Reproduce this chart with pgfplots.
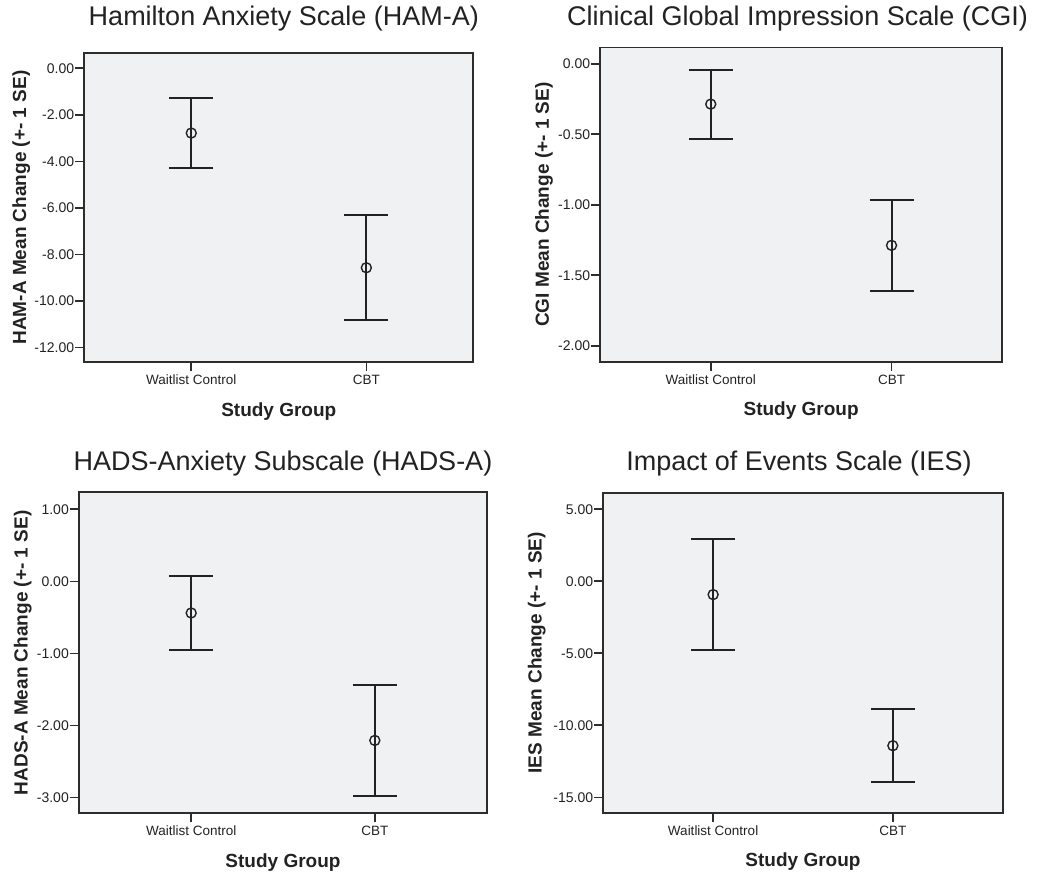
\documentclass[border=0pt]{standalone}
\usepackage{fontspec}
\setmainfont{Liberation Sans}
\usepackage{pgfplots}
\pgfplotsset{compat=1.18}
\definecolor{bgcol}{RGB}{240,241,243}
\definecolor{axcol}{RGB}{45,45,45}
\definecolor{barcol}{RGB}{34,34,34}
\definecolor{txtcol}{RGB}{34,34,34}
\pgfplotsset{
 spss/.style={
  scale only axis, anchor=north west,
  xmin=-0.611, xmax=1.611,
  xtick={0,1}, xticklabels={Waitlist Control,CBT},
  tick align=outside, xtick pos=bottom, ytick pos=left,
  major tick length=9pt,
  axis line style={draw=axcol, line width=1.8pt},
  every tick/.style={draw=axcol, line width=1.6pt},
  axis background/.style={fill=bgcol},
  tick label style={font=\fontsize{13.5}{13.5}\selectfont, text=txtcol},
  xticklabel style={text height=10pt, text depth=3pt},
  yticklabel style={font=\fontsize{14}{14}\selectfont, inner sep=1pt, /pgf/number format/fixed, /pgf/number format/fixed zerofill, /pgf/number format/precision=2},
  /pgf/number format/assume math mode=true,
  label style={font=\fontsize{19}{19}\selectfont\bfseries, text=txtcol},
  title style={font=\fontsize{27}{27}\selectfont, text=txtcol, anchor=base},
  xlabel={Study Group},
  clip=false,
 },
 eb/.style={only marks, mark=o, mark size=5pt,
  mark options={draw=barcol, line width=1.4pt, fill=none},
  error bars/.cd, y dir=both, y explicit, error mark=|,
  error bar style={draw=barcol, line width=2pt},
  error mark options={draw=barcol, line width=2pt, mark size=22pt}},
}
\begin{document}
\begin{tikzpicture}
\useasboundingbox (0,0) rectangle (1038pt,-872pt);
% Panel 1
\begin{axis}[spss, at={(84.3pt,-52.7pt)}, width=389pt, height=309.6pt,
  ymin=-12.64, ymax=0.67, ytick={0,-2,-4,-6,-8,-10,-12},
  ylabel={HAM-A Mean Change (+- 1 SE)},
  ylabel style={at={(axis description cs:-0.162,0.5)}, anchor=center},
  xlabel style={at={(axis description cs:0.5,-0.1596)}, anchor=center},
  title={Hamilton Anxiety Scale (HAM-A)},
  title style={at={(axis description cs:0.5,1)}, yshift=20.7pt, xshift=5pt}]
\addplot+[eb] coordinates {(0,-2.785) +- (0,1.515) (1,-8.575) +- (0,2.255)};
\end{axis}
% Panel 2
\begin{axis}[spss, at={(600.3pt,-47.5pt)}, width=401.7pt, height=314.2pt,
  ymin=-2.113, ymax=0.115, ytick={0,-0.5,-1,-1.5,-2},
  ylabel={CGI Mean Change (+- 1 SE)},
  ylabel style={at={(axis description cs:-0.140,0.5)}, anchor=center},
  xlabel style={at={(axis description cs:0.5,-0.157)}, anchor=center},
  title={Clinical Global Impression Scale (CGI)},
  title style={at={(axis description cs:0.5,1)}, yshift=15.8pt, xshift=-3.6pt}]
\addplot+[eb] coordinates {(0,-0.2865) +- (0,0.2445) (1,-1.288) +- (0,0.323)};
\end{axis}
% Panel 3
\begin{axis}[spss, at={(79pt,-492.3pt)}, width=408pt, height=321pt,
  ymin=-3.222, ymax=1.236, ytick={1,0,-1,-2,-3},
  ylabel={HADS-A Mean Change (+- 1 SE)},
  ylabel style={at={(axis description cs:-0.138,0.5)}, anchor=center},
  xlabel style={at={(axis description cs:0.5,-0.154)}, anchor=center},
  title={HADS-Anxiety Subscale (HADS-A)},
  title style={at={(axis description cs:0.5,1)}, yshift=16.3pt}]
\addplot+[eb] coordinates {(0,-0.44) +- (0,0.514) (1,-2.21) +- (0,0.766)};
\end{axis}
% Panel 4
\begin{axis}[spss, at={(603.3pt,-492.7pt)}, width=399.4pt, height=320pt,
  ymin=-16.07, ymax=6.15, ytick={5,0,-5,-10,-15},
  ylabel={IES Mean Change (+- 1 SE)},
  ylabel style={at={(axis description cs:-0.1668,0.5)}, anchor=center},
  xlabel style={at={(axis description cs:0.5,-0.154)}, anchor=center},
  title={Impact of Events Scale (IES)},
  title style={at={(axis description cs:0.5,1)}, yshift=16.7pt, xshift=-4pt}]
\addplot+[eb] coordinates {(0,-0.925) +- (0,3.845) (1,-11.415) +- (0,2.525)};
\end{axis}
\end{tikzpicture}
\end{document}
